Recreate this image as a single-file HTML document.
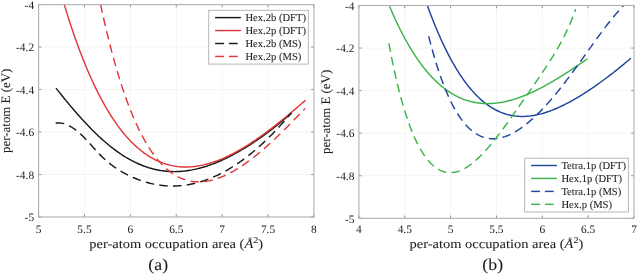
<!DOCTYPE html>
<html><head><meta charset="utf-8"><style>
html,body{margin:0;padding:0;background:#fff;width:637px;height:275px;overflow:hidden;position:relative}
svg text{text-rendering:geometricPrecision}
svg{filter:blur(0.3px)}
</style></head><body>
<svg width="637" height="275" viewBox="0 0 637 275" style="position:absolute;left:0;top:0">
<defs><clipPath id="ca"><rect x="38.6" y="4.6" width="275.29999999999995" height="212.35"/></clipPath><clipPath id="cb"><rect x="358.9" y="5.5" width="275.1" height="212.8"/></clipPath></defs>
<g font-family='"Liberation Serif", serif' fill="#1c1c1c" stroke="#1c1c1c" stroke-width="0.08">
<line x1="84.48" y1="4.6" x2="84.48" y2="216.95" stroke="#f1f1f1" stroke-width="0.8"/>
<line x1="130.37" y1="4.6" x2="130.37" y2="216.95" stroke="#f1f1f1" stroke-width="0.8"/>
<line x1="176.25" y1="4.6" x2="176.25" y2="216.95" stroke="#f1f1f1" stroke-width="0.8"/>
<line x1="222.13" y1="4.6" x2="222.13" y2="216.95" stroke="#f1f1f1" stroke-width="0.8"/>
<line x1="268.02" y1="4.6" x2="268.02" y2="216.95" stroke="#f1f1f1" stroke-width="0.8"/>
<line x1="38.6" y1="47.07" x2="313.9" y2="47.07" stroke="#f1f1f1" stroke-width="0.8"/>
<line x1="38.6" y1="89.54" x2="313.9" y2="89.54" stroke="#f1f1f1" stroke-width="0.8"/>
<line x1="38.6" y1="132.01" x2="313.9" y2="132.01" stroke="#f1f1f1" stroke-width="0.8"/>
<line x1="38.6" y1="174.48" x2="313.9" y2="174.48" stroke="#f1f1f1" stroke-width="0.8"/>
<g clip-path="url(#ca)" fill="none" stroke-width="1.45" stroke-linejoin="round">
<path d="M56.00,88.16 L57.18,89.65 L58.37,91.13 L59.55,92.60 L60.74,94.07 L61.92,95.54 L63.11,97.00 L64.29,98.45 L65.48,99.90 L66.66,101.34 L67.84,102.77 L69.03,104.19 L70.21,105.61 L71.40,107.01 L72.58,108.41 L73.77,109.80 L74.95,111.17 L76.14,112.54 L77.32,113.90 L78.50,115.24 L79.69,116.58 L80.87,117.90 L82.06,119.21 L83.24,120.51 L84.43,121.80 L85.61,123.07 L86.79,124.33 L87.98,125.58 L89.16,126.81 L90.35,128.03 L91.53,129.24 L92.72,130.43 L93.90,131.60 L95.09,132.77 L96.27,133.91 L97.45,135.04 L98.64,136.16 L99.82,137.26 L101.01,138.35 L102.19,139.41 L103.38,140.47 L104.56,141.50 L105.75,142.52 L106.93,143.53 L108.11,144.52 L109.30,145.49 L110.48,146.44 L111.67,147.38 L112.85,148.29 L114.04,149.20 L115.22,150.08 L116.41,150.95 L117.59,151.80 L118.77,152.63 L119.96,153.44 L121.14,154.24 L122.33,155.02 L123.51,155.78 L124.70,156.52 L125.88,157.25 L127.07,157.95 L128.25,158.64 L129.43,159.31 L130.62,159.97 L131.80,160.60 L132.99,161.22 L134.17,161.82 L135.36,162.40 L136.54,162.96 L137.73,163.50 L138.91,164.03 L140.09,164.54 L141.28,165.03 L142.46,165.50 L143.65,165.95 L144.83,166.39 L146.02,166.81 L147.20,167.20 L148.38,167.59 L149.57,167.95 L150.75,168.30 L151.94,168.63 L153.12,168.94 L154.31,169.23 L155.49,169.51 L156.68,169.77 L157.86,170.01 L159.04,170.23 L160.23,170.44 L161.41,170.63 L162.60,170.80 L163.78,170.96 L164.97,171.09 L166.15,171.22 L167.34,171.32 L168.52,171.41 L169.70,171.48 L170.89,171.54 L172.07,171.58 L173.26,171.60 L174.44,171.61 L175.63,171.60 L176.81,171.58 L178.00,171.54 L179.18,171.48 L180.36,171.41 L181.55,171.33 L182.73,171.23 L183.92,171.11 L185.10,170.98 L186.29,170.83 L187.47,170.67 L188.66,170.50 L189.84,170.31 L191.02,170.10 L192.21,169.89 L193.39,169.65 L194.58,169.41 L195.76,169.15 L196.95,168.88 L198.13,168.59 L199.32,168.29 L200.50,167.98 L201.68,167.65 L202.87,167.31 L204.05,166.96 L205.24,166.59 L206.42,166.22 L207.61,165.83 L208.79,165.42 L209.97,165.01 L211.16,164.58 L212.34,164.15 L213.53,163.70 L214.71,163.23 L215.90,162.76 L217.08,162.28 L218.27,161.78 L219.45,161.27 L220.63,160.76 L221.82,160.23 L223.00,159.69 L224.19,159.14 L225.37,158.58 L226.56,158.01 L227.74,157.43 L228.93,156.84 L230.11,156.24 L231.29,155.62 L232.48,155.00 L233.66,154.37 L234.85,153.73 L236.03,153.08 L237.22,152.42 L238.40,151.76 L239.59,151.08 L240.77,150.39 L241.95,149.69 L243.14,148.99 L244.32,148.28 L245.51,147.55 L246.69,146.82 L247.88,146.08 L249.06,145.33 L250.25,144.58 L251.43,143.81 L252.61,143.03 L253.80,142.25 L254.98,141.46 L256.17,140.66 L257.35,139.85 L258.54,139.04 L259.72,138.21 L260.91,137.38 L262.09,136.54 L263.27,135.69 L264.46,134.84 L265.64,133.97 L266.83,133.10 L268.01,132.22 L269.20,131.33 L270.38,130.43 L271.56,129.53 L272.75,128.62 L273.93,127.69 L275.12,126.77 L276.30,125.83 L277.49,124.88 L278.67,123.93 L279.86,122.96 L281.04,121.99 L282.22,121.01 L283.41,120.03 L284.59,119.03 L285.78,118.02 L286.96,117.01 L288.15,115.99 L289.33,114.95 L290.52,113.91 L291.70,112.86" stroke="#1a1a1a"/>
<path d="M64.20,4.38 L65.41,8.37 L66.63,12.30 L67.84,16.15 L69.05,19.95 L70.26,23.67 L71.48,27.33 L72.69,30.93 L73.90,34.47 L75.11,37.94 L76.33,41.36 L77.54,44.71 L78.75,48.00 L79.96,51.23 L81.18,54.40 L82.39,57.52 L83.60,60.58 L84.81,63.58 L86.03,66.52 L87.24,69.41 L88.45,72.25 L89.66,75.03 L90.88,77.76 L92.09,80.43 L93.30,83.05 L94.51,85.62 L95.73,88.14 L96.94,90.61 L98.15,93.03 L99.36,95.40 L100.58,97.72 L101.79,99.99 L103.00,102.21 L104.21,104.39 L105.43,106.52 L106.64,108.60 L107.85,110.64 L109.06,112.63 L110.28,114.58 L111.49,116.49 L112.70,118.35 L113.92,120.17 L115.13,121.94 L116.34,123.68 L117.55,125.37 L118.77,127.02 L119.98,128.63 L121.19,130.21 L122.40,131.74 L123.62,133.23 L124.83,134.68 L126.04,136.10 L127.25,137.48 L128.47,138.82 L129.68,140.12 L130.89,141.39 L132.10,142.62 L133.32,143.82 L134.53,144.98 L135.74,146.10 L136.95,147.20 L138.17,148.25 L139.38,149.28 L140.59,150.27 L141.80,151.23 L143.02,152.16 L144.23,153.05 L145.44,153.92 L146.65,154.75 L147.87,155.55 L149.08,156.32 L150.29,157.06 L151.50,157.77 L152.72,158.46 L153.93,159.11 L155.14,159.73 L156.35,160.33 L157.57,160.90 L158.78,161.44 L159.99,161.95 L161.21,162.44 L162.42,162.90 L163.63,163.34 L164.84,163.74 L166.06,164.13 L167.27,164.48 L168.48,164.82 L169.69,165.12 L170.91,165.41 L172.12,165.67 L173.33,165.90 L174.54,166.12 L175.76,166.30 L176.97,166.47 L178.18,166.61 L179.39,166.74 L180.61,166.83 L181.82,166.91 L183.03,166.97 L184.24,167.00 L185.46,167.02 L186.67,167.01 L187.88,166.98 L189.09,166.93 L190.31,166.87 L191.52,166.78 L192.73,166.67 L193.94,166.55 L195.16,166.40 L196.37,166.24 L197.58,166.06 L198.79,165.86 L200.01,165.64 L201.22,165.40 L202.43,165.15 L203.64,164.88 L204.86,164.59 L206.07,164.28 L207.28,163.96 L208.49,163.62 L209.71,163.27 L210.92,162.90 L212.13,162.51 L213.35,162.11 L214.56,161.70 L215.77,161.26 L216.98,160.82 L218.20,160.36 L219.41,159.88 L220.62,159.39 L221.83,158.88 L223.05,158.37 L224.26,157.83 L225.47,157.29 L226.68,156.73 L227.90,156.16 L229.11,155.57 L230.32,154.97 L231.53,154.36 L232.75,153.74 L233.96,153.11 L235.17,152.46 L236.38,151.80 L237.60,151.13 L238.81,150.45 L240.02,149.75 L241.23,149.05 L242.45,148.33 L243.66,147.61 L244.87,146.87 L246.08,146.12 L247.30,145.36 L248.51,144.60 L249.72,143.82 L250.93,143.03 L252.15,142.23 L253.36,141.43 L254.57,140.61 L255.78,139.79 L257.00,138.96 L258.21,138.11 L259.42,137.26 L260.64,136.40 L261.85,135.54 L263.06,134.66 L264.27,133.78 L265.49,132.89 L266.70,131.99 L267.91,131.08 L269.12,130.17 L270.34,129.25 L271.55,128.33 L272.76,127.39 L273.97,126.45 L275.19,125.51 L276.40,124.56 L277.61,123.60 L278.82,122.63 L280.04,121.67 L281.25,120.69 L282.46,119.71 L283.67,118.73 L284.89,117.74 L286.10,116.74 L287.31,115.74 L288.52,114.74 L289.74,113.73 L290.95,112.72 L292.16,111.70 L293.37,110.68 L294.59,109.66 L295.80,108.63 L297.01,107.60 L298.22,106.57 L299.44,105.54 L300.65,104.50 L301.86,103.46 L303.07,102.42 L304.29,101.37 L305.50,100.32" stroke="#e0393b"/>
<path d="M55.70,123.24 L56.88,123.06 L58.07,122.97 L59.25,122.95 L60.43,123.01 L61.61,123.15 L62.80,123.37 L63.98,123.65 L65.16,124.01 L66.35,124.43 L67.53,124.92 L68.71,125.48 L69.89,126.09 L71.08,126.76 L72.26,127.50 L73.44,128.28 L74.63,129.12 L75.81,130.01 L76.99,130.95 L78.18,131.93 L79.36,132.96 L80.54,134.03 L81.72,135.14 L82.91,136.28 L84.09,137.47 L85.27,138.68 L86.46,139.93 L87.64,141.20 L88.82,142.49 L90.00,143.80 L91.19,145.11 L92.37,146.43 L93.55,147.75 L94.74,149.07 L95.92,150.37 L97.10,151.66 L98.28,152.92 L99.47,154.16 L100.65,155.37 L101.83,156.54 L103.02,157.67 L104.20,158.78 L105.38,159.85 L106.57,160.89 L107.75,161.90 L108.93,162.88 L110.11,163.83 L111.30,164.75 L112.48,165.64 L113.66,166.51 L114.85,167.34 L116.03,168.16 L117.21,168.95 L118.39,169.71 L119.58,170.45 L120.76,171.17 L121.94,171.87 L123.13,172.54 L124.31,173.20 L125.49,173.83 L126.67,174.45 L127.86,175.05 L129.04,175.63 L130.22,176.19 L131.41,176.74 L132.59,177.27 L133.77,177.78 L134.96,178.28 L136.14,178.77 L137.32,179.24 L138.50,179.69 L139.69,180.12 L140.87,180.54 L142.05,180.95 L143.24,181.34 L144.42,181.71 L145.60,182.07 L146.78,182.41 L147.97,182.74 L149.15,183.05 L150.33,183.34 L151.52,183.62 L152.70,183.89 L153.88,184.14 L155.06,184.37 L156.25,184.59 L157.43,184.79 L158.61,184.98 L159.80,185.15 L160.98,185.30 L162.16,185.44 L163.35,185.57 L164.53,185.68 L165.71,185.77 L166.89,185.85 L168.08,185.92 L169.26,185.96 L170.44,186.00 L171.63,186.02 L172.81,186.02 L173.99,186.01 L175.17,185.98 L176.36,185.94 L177.54,185.88 L178.72,185.81 L179.91,185.72 L181.09,185.62 L182.27,185.50 L183.45,185.37 L184.64,185.22 L185.82,185.06 L187.00,184.88 L188.19,184.69 L189.37,184.48 L190.55,184.26 L191.74,184.02 L192.92,183.77 L194.10,183.50 L195.28,183.22 L196.47,182.92 L197.65,182.61 L198.83,182.28 L200.02,181.94 L201.20,181.59 L202.38,181.22 L203.56,180.83 L204.75,180.43 L205.93,180.02 L207.11,179.59 L208.30,179.15 L209.48,178.69 L210.66,178.22 L211.84,177.73 L213.03,177.23 L214.21,176.71 L215.39,176.18 L216.58,175.64 L217.76,175.08 L218.94,174.51 L220.13,173.92 L221.31,173.32 L222.49,172.70 L223.67,172.07 L224.86,171.42 L226.04,170.76 L227.22,170.09 L228.41,169.40 L229.59,168.70 L230.77,167.98 L231.95,167.25 L233.14,166.51 L234.32,165.75 L235.50,164.98 L236.69,164.19 L237.87,163.39 L239.05,162.58 L240.23,161.75 L241.42,160.90 L242.60,160.05 L243.78,159.18 L244.97,158.29 L246.15,157.39 L247.33,156.48 L248.52,155.55 L249.70,154.61 L250.88,153.66 L252.06,152.69 L253.25,151.71 L254.43,150.71 L255.61,149.71 L256.80,148.68 L257.98,147.65 L259.16,146.60 L260.34,145.53 L261.53,144.45 L262.71,143.36 L263.89,142.26 L265.08,141.14 L266.26,140.01 L267.44,138.86 L268.62,137.70 L269.81,136.53 L270.99,135.34 L272.17,134.14 L273.36,132.93 L274.54,131.70 L275.72,130.46 L276.91,129.21 L278.09,127.95 L279.27,126.67 L280.45,125.37 L281.64,124.07 L282.82,122.75 L284.00,121.41 L285.19,120.07 L286.37,118.71 L287.55,117.33 L288.73,115.95 L289.92,114.55 L291.10,113.14" stroke="#1a1a1a" stroke-dasharray="8.6 5.2"/>
<path d="M100.50,4.16 L101.53,8.94 L102.56,13.63 L103.58,18.23 L104.61,22.74 L105.64,27.16 L106.67,31.50 L107.70,35.75 L108.73,39.91 L109.75,43.99 L110.78,47.99 L111.81,51.91 L112.84,55.75 L113.87,59.50 L114.89,63.18 L115.92,66.79 L116.95,70.31 L117.98,73.77 L119.01,77.15 L120.03,80.45 L121.06,83.69 L122.09,86.85 L123.12,89.94 L124.15,92.97 L125.18,95.93 L126.20,98.82 L127.23,101.65 L128.26,104.41 L129.29,107.10 L130.32,109.74 L131.34,112.31 L132.37,114.82 L133.40,117.27 L134.43,119.66 L135.46,122.00 L136.48,124.27 L137.51,126.49 L138.54,128.65 L139.57,130.76 L140.60,132.82 L141.63,134.81 L142.65,136.76 L143.68,138.66 L144.71,140.50 L145.74,142.29 L146.77,144.04 L147.79,145.73 L148.82,147.38 L149.85,148.98 L150.88,150.53 L151.91,152.04 L152.94,153.50 L153.96,154.91 L154.99,156.28 L156.02,157.61 L157.05,158.90 L158.08,160.14 L159.10,161.35 L160.13,162.51 L161.16,163.63 L162.19,164.71 L163.22,165.75 L164.24,166.76 L165.27,167.73 L166.30,168.66 L167.33,169.55 L168.36,170.41 L169.39,171.23 L170.41,172.02 L171.44,172.77 L172.47,173.49 L173.50,174.17 L174.53,174.83 L175.55,175.45 L176.58,176.03 L177.61,176.59 L178.64,177.12 L179.67,177.61 L180.69,178.08 L181.72,178.52 L182.75,178.92 L183.78,179.30 L184.81,179.65 L185.84,179.98 L186.86,180.27 L187.89,180.54 L188.92,180.79 L189.95,181.00 L190.98,181.20 L192.00,181.36 L193.03,181.51 L194.06,181.62 L195.09,181.72 L196.12,181.79 L197.15,181.83 L198.17,181.86 L199.20,181.86 L200.23,181.84 L201.26,181.79 L202.29,181.73 L203.31,181.64 L204.34,181.54 L205.37,181.41 L206.40,181.26 L207.43,181.10 L208.45,180.91 L209.48,180.71 L210.51,180.48 L211.54,180.24 L212.57,179.98 L213.60,179.70 L214.62,179.40 L215.65,179.08 L216.68,178.75 L217.71,178.40 L218.74,178.04 L219.76,177.66 L220.79,177.26 L221.82,176.84 L222.85,176.41 L223.88,175.97 L224.91,175.50 L225.93,175.03 L226.96,174.54 L227.99,174.03 L229.02,173.51 L230.05,172.98 L231.07,172.43 L232.10,171.87 L233.13,171.30 L234.16,170.71 L235.19,170.11 L236.21,169.49 L237.24,168.87 L238.27,168.23 L239.30,167.58 L240.33,166.91 L241.36,166.24 L242.38,165.55 L243.41,164.86 L244.44,164.15 L245.47,163.43 L246.50,162.70 L247.52,161.95 L248.55,161.20 L249.58,160.44 L250.61,159.67 L251.64,158.88 L252.66,158.09 L253.69,157.29 L254.72,156.48 L255.75,155.65 L256.78,154.82 L257.81,153.98 L258.83,153.14 L259.86,152.28 L260.89,151.41 L261.92,150.54 L262.95,149.66 L263.97,148.77 L265.00,147.87 L266.03,146.96 L267.06,146.05 L268.09,145.13 L269.12,144.20 L270.14,143.27 L271.17,142.32 L272.20,141.37 L273.23,140.42 L274.26,139.46 L275.28,138.49 L276.31,137.51 L277.34,136.53 L278.37,135.55 L279.40,134.56 L280.42,133.56 L281.45,132.56 L282.48,131.55 L283.51,130.54 L284.54,129.52 L285.57,128.50 L286.59,127.47 L287.62,126.44 L288.65,125.40 L289.68,124.36 L290.71,123.32 L291.73,122.27 L292.76,121.22 L293.79,120.17 L294.82,119.11 L295.85,118.05 L296.87,116.99 L297.90,115.93 L298.93,114.86 L299.96,113.79 L300.99,112.72 L302.02,111.64 L303.04,110.57 L304.07,109.49 L305.10,108.42" stroke="#e0393b" stroke-dasharray="8.6 5.2"/>
</g>
<line x1="38.60" y1="216.95" x2="38.60" y2="214.15" stroke="#8a8a8a" stroke-width="0.9"/>
<line x1="38.60" y1="4.6" x2="38.60" y2="7.40" stroke="#8a8a8a" stroke-width="0.9"/>
<line x1="84.48" y1="216.95" x2="84.48" y2="214.15" stroke="#8a8a8a" stroke-width="0.9"/>
<line x1="84.48" y1="4.6" x2="84.48" y2="7.40" stroke="#8a8a8a" stroke-width="0.9"/>
<line x1="130.37" y1="216.95" x2="130.37" y2="214.15" stroke="#8a8a8a" stroke-width="0.9"/>
<line x1="130.37" y1="4.6" x2="130.37" y2="7.40" stroke="#8a8a8a" stroke-width="0.9"/>
<line x1="176.25" y1="216.95" x2="176.25" y2="214.15" stroke="#8a8a8a" stroke-width="0.9"/>
<line x1="176.25" y1="4.6" x2="176.25" y2="7.40" stroke="#8a8a8a" stroke-width="0.9"/>
<line x1="222.13" y1="216.95" x2="222.13" y2="214.15" stroke="#8a8a8a" stroke-width="0.9"/>
<line x1="222.13" y1="4.6" x2="222.13" y2="7.40" stroke="#8a8a8a" stroke-width="0.9"/>
<line x1="268.02" y1="216.95" x2="268.02" y2="214.15" stroke="#8a8a8a" stroke-width="0.9"/>
<line x1="268.02" y1="4.6" x2="268.02" y2="7.40" stroke="#8a8a8a" stroke-width="0.9"/>
<line x1="313.90" y1="216.95" x2="313.90" y2="214.15" stroke="#8a8a8a" stroke-width="0.9"/>
<line x1="313.90" y1="4.6" x2="313.90" y2="7.40" stroke="#8a8a8a" stroke-width="0.9"/>
<line x1="38.6" y1="4.60" x2="41.40" y2="4.60" stroke="#8a8a8a" stroke-width="0.9"/>
<line x1="313.9" y1="4.60" x2="311.10" y2="4.60" stroke="#8a8a8a" stroke-width="0.9"/>
<line x1="38.6" y1="47.07" x2="41.40" y2="47.07" stroke="#8a8a8a" stroke-width="0.9"/>
<line x1="313.9" y1="47.07" x2="311.10" y2="47.07" stroke="#8a8a8a" stroke-width="0.9"/>
<line x1="38.6" y1="89.54" x2="41.40" y2="89.54" stroke="#8a8a8a" stroke-width="0.9"/>
<line x1="313.9" y1="89.54" x2="311.10" y2="89.54" stroke="#8a8a8a" stroke-width="0.9"/>
<line x1="38.6" y1="132.01" x2="41.40" y2="132.01" stroke="#8a8a8a" stroke-width="0.9"/>
<line x1="313.9" y1="132.01" x2="311.10" y2="132.01" stroke="#8a8a8a" stroke-width="0.9"/>
<line x1="38.6" y1="174.48" x2="41.40" y2="174.48" stroke="#8a8a8a" stroke-width="0.9"/>
<line x1="313.9" y1="174.48" x2="311.10" y2="174.48" stroke="#8a8a8a" stroke-width="0.9"/>
<line x1="38.6" y1="216.95" x2="41.40" y2="216.95" stroke="#8a8a8a" stroke-width="0.9"/>
<line x1="313.9" y1="216.95" x2="311.10" y2="216.95" stroke="#8a8a8a" stroke-width="0.9"/>
<rect x="38.6" y="4.6" width="275.30" height="212.35" fill="none" stroke="#b0b0b0" stroke-width="1.1"/>
<text x="38.60" y="233.3" text-anchor="middle" font-size="11.4" stroke-width="0">5</text>
<text x="84.48" y="233.3" text-anchor="middle" font-size="11.4" stroke-width="0">5.5</text>
<text x="130.37" y="233.3" text-anchor="middle" font-size="11.4" stroke-width="0">6</text>
<text x="176.25" y="233.3" text-anchor="middle" font-size="11.4" stroke-width="0">6.5</text>
<text x="222.13" y="233.3" text-anchor="middle" font-size="11.4" stroke-width="0">7</text>
<text x="268.02" y="233.3" text-anchor="middle" font-size="11.4" stroke-width="0">7.5</text>
<text x="313.90" y="233.3" text-anchor="middle" font-size="11.4" stroke-width="0">8</text>
<text x="34.10" y="8.80" text-anchor="end" font-size="11.4" stroke-width="0">-4</text>
<text x="34.10" y="51.27" text-anchor="end" font-size="11.4" stroke-width="0">-4.2</text>
<text x="34.10" y="93.74" text-anchor="end" font-size="11.4" stroke-width="0">-4.4</text>
<text x="34.10" y="136.21" text-anchor="end" font-size="11.4" stroke-width="0">-4.6</text>
<text x="34.10" y="178.68" text-anchor="end" font-size="11.4" stroke-width="0">-4.8</text>
<text x="34.10" y="221.15" text-anchor="end" font-size="11.4" stroke-width="0">-5</text>
<rect x="208.7" y="10.3" width="99.60" height="53.80" fill="#fff" stroke="#b0b0b0" stroke-width="0.9"/>
<line x1="215.10" y1="17.60" x2="240.90" y2="17.60" stroke="#1a1a1a" stroke-width="1.45"/>
<text x="245.40" y="21.20" font-size="10.6">Hex.2b (DFT)</text>
<line x1="215.10" y1="30.55" x2="240.90" y2="30.55" stroke="#e0393b" stroke-width="1.45"/>
<text x="245.40" y="34.15" font-size="10.6">Hex.2p (DFT)</text>
<line x1="215.10" y1="43.50" x2="224.10" y2="43.50" stroke="#1a1a1a" stroke-width="1.45"/>
<line x1="228.90" y1="43.50" x2="237.70" y2="43.50" stroke="#1a1a1a" stroke-width="1.45"/>
<text x="245.40" y="47.10" font-size="10.6">Hex.2b (MS)</text>
<line x1="215.10" y1="56.45" x2="224.10" y2="56.45" stroke="#e0393b" stroke-width="1.45"/>
<line x1="228.90" y1="56.45" x2="237.70" y2="56.45" stroke="#e0393b" stroke-width="1.45"/>
<text x="245.40" y="60.05" font-size="10.6">Hex.2p (MS)</text>
<line x1="404.75" y1="5.5" x2="404.75" y2="218.3" stroke="#f1f1f1" stroke-width="0.8"/>
<line x1="450.60" y1="5.5" x2="450.60" y2="218.3" stroke="#f1f1f1" stroke-width="0.8"/>
<line x1="496.45" y1="5.5" x2="496.45" y2="218.3" stroke="#f1f1f1" stroke-width="0.8"/>
<line x1="542.30" y1="5.5" x2="542.30" y2="218.3" stroke="#f1f1f1" stroke-width="0.8"/>
<line x1="588.15" y1="5.5" x2="588.15" y2="218.3" stroke="#f1f1f1" stroke-width="0.8"/>
<line x1="358.9" y1="48.06" x2="634.0" y2="48.06" stroke="#f1f1f1" stroke-width="0.8"/>
<line x1="358.9" y1="90.62" x2="634.0" y2="90.62" stroke="#f1f1f1" stroke-width="0.8"/>
<line x1="358.9" y1="133.18" x2="634.0" y2="133.18" stroke="#f1f1f1" stroke-width="0.8"/>
<line x1="358.9" y1="175.74" x2="634.0" y2="175.74" stroke="#f1f1f1" stroke-width="0.8"/>
<g clip-path="url(#cb)" fill="none" stroke-width="1.45" stroke-linejoin="round">
<path d="M427.30,5.36 L428.32,8.17 L429.35,10.93 L430.37,13.65 L431.39,16.32 L432.42,18.95 L433.44,21.54 L434.46,24.08 L435.48,26.58 L436.51,29.04 L437.53,31.45 L438.55,33.83 L439.58,36.16 L440.60,38.45 L441.62,40.71 L442.65,42.92 L443.67,45.09 L444.69,47.22 L445.72,49.31 L446.74,51.36 L447.76,53.38 L448.79,55.35 L449.81,57.29 L450.83,59.19 L451.85,61.05 L452.88,62.87 L453.90,64.66 L454.92,66.41 L455.95,68.12 L456.97,69.80 L457.99,71.44 L459.02,73.05 L460.04,74.62 L461.06,76.16 L462.09,77.66 L463.11,79.13 L464.13,80.56 L465.16,81.97 L466.18,83.33 L467.20,84.67 L468.22,85.97 L469.25,87.24 L470.27,88.48 L471.29,89.69 L472.32,90.86 L473.34,92.01 L474.36,93.12 L475.39,94.21 L476.41,95.26 L477.43,96.29 L478.46,97.28 L479.48,98.25 L480.50,99.18 L481.53,100.09 L482.55,100.97 L483.57,101.83 L484.59,102.65 L485.62,103.45 L486.64,104.22 L487.66,104.96 L488.69,105.68 L489.71,106.37 L490.73,107.04 L491.76,107.68 L492.78,108.29 L493.80,108.88 L494.83,109.45 L495.85,109.99 L496.87,110.51 L497.89,111.00 L498.92,111.47 L499.94,111.91 L500.96,112.34 L501.99,112.74 L503.01,113.12 L504.03,113.48 L505.06,113.81 L506.08,114.12 L507.10,114.42 L508.13,114.69 L509.15,114.94 L510.17,115.17 L511.20,115.38 L512.22,115.57 L513.24,115.74 L514.26,115.89 L515.29,116.03 L516.31,116.14 L517.33,116.23 L518.36,116.31 L519.38,116.37 L520.40,116.41 L521.43,116.44 L522.45,116.44 L523.47,116.43 L524.50,116.41 L525.52,116.36 L526.54,116.30 L527.57,116.23 L528.59,116.13 L529.61,116.03 L530.63,115.90 L531.66,115.77 L532.68,115.62 L533.70,115.45 L534.73,115.27 L535.75,115.07 L536.77,114.86 L537.80,114.64 L538.82,114.40 L539.84,114.15 L540.87,113.89 L541.89,113.62 L542.91,113.33 L543.94,113.03 L544.96,112.72 L545.98,112.39 L547.00,112.05 L548.03,111.71 L549.05,111.35 L550.07,110.98 L551.10,110.60 L552.12,110.20 L553.14,109.80 L554.17,109.39 L555.19,108.96 L556.21,108.53 L557.24,108.09 L558.26,107.63 L559.28,107.17 L560.31,106.70 L561.33,106.22 L562.35,105.73 L563.37,105.23 L564.40,104.72 L565.42,104.21 L566.44,103.68 L567.47,103.15 L568.49,102.61 L569.51,102.06 L570.54,101.50 L571.56,100.94 L572.58,100.37 L573.61,99.79 L574.63,99.20 L575.65,98.61 L576.67,98.01 L577.70,97.40 L578.72,96.78 L579.74,96.16 L580.77,95.54 L581.79,94.90 L582.81,94.26 L583.84,93.62 L584.86,92.96 L585.88,92.30 L586.91,91.64 L587.93,90.97 L588.95,90.29 L589.98,89.61 L591.00,88.92 L592.02,88.23 L593.04,87.53 L594.07,86.83 L595.09,86.12 L596.11,85.40 L597.14,84.68 L598.16,83.96 L599.18,83.23 L600.21,82.49 L601.23,81.75 L602.25,81.01 L603.28,80.26 L604.30,79.50 L605.32,78.74 L606.35,77.98 L607.37,77.21 L608.39,76.44 L609.41,75.66 L610.44,74.87 L611.46,74.08 L612.48,73.29 L613.51,72.49 L614.53,71.69 L615.55,70.88 L616.58,70.07 L617.60,69.25 L618.62,68.43 L619.65,67.60 L620.67,66.77 L621.69,65.93 L622.72,65.09 L623.74,64.24 L624.76,63.39 L625.78,62.54 L626.81,61.67 L627.83,60.81 L628.85,59.93 L629.88,59.05 L630.90,58.17" stroke="#21449c"/>
<path d="M389.50,6.17 L390.49,8.51 L391.49,10.82 L392.48,13.09 L393.48,15.33 L394.47,17.53 L395.46,19.69 L396.46,21.82 L397.45,23.92 L398.45,25.97 L399.44,28.00 L400.43,29.99 L401.43,31.95 L402.42,33.87 L403.42,35.76 L404.41,37.62 L405.40,39.44 L406.40,41.23 L407.39,43.00 L408.39,44.72 L409.38,46.42 L410.37,48.09 L411.37,49.73 L412.36,51.33 L413.36,52.91 L414.35,54.45 L415.34,55.97 L416.34,57.46 L417.33,58.91 L418.33,60.34 L419.32,61.74 L420.31,63.12 L421.31,64.46 L422.30,65.78 L423.29,67.07 L424.29,68.33 L425.28,69.57 L426.28,70.78 L427.27,71.96 L428.26,73.12 L429.26,74.25 L430.25,75.35 L431.25,76.43 L432.24,77.49 L433.23,78.52 L434.23,79.53 L435.22,80.51 L436.22,81.47 L437.21,82.40 L438.20,83.31 L439.20,84.20 L440.19,85.06 L441.19,85.90 L442.18,86.72 L443.17,87.52 L444.17,88.29 L445.16,89.04 L446.16,89.77 L447.15,90.48 L448.14,91.17 L449.14,91.84 L450.13,92.48 L451.13,93.11 L452.12,93.71 L453.11,94.30 L454.11,94.86 L455.10,95.41 L456.10,95.93 L457.09,96.44 L458.08,96.92 L459.08,97.39 L460.07,97.84 L461.07,98.27 L462.06,98.69 L463.05,99.08 L464.05,99.46 L465.04,99.81 L466.04,100.16 L467.03,100.48 L468.02,100.79 L469.02,101.08 L470.01,101.35 L471.01,101.61 L472.00,101.85 L472.99,102.07 L473.99,102.28 L474.98,102.47 L475.98,102.65 L476.97,102.81 L477.96,102.95 L478.96,103.08 L479.95,103.20 L480.95,103.30 L481.94,103.38 L482.93,103.45 L483.93,103.51 L484.92,103.55 L485.92,103.58 L486.91,103.60 L487.90,103.60 L488.90,103.59 L489.89,103.56 L490.88,103.53 L491.88,103.47 L492.87,103.41 L493.87,103.33 L494.86,103.24 L495.85,103.14 L496.85,103.03 L497.84,102.90 L498.84,102.77 L499.83,102.62 L500.82,102.46 L501.82,102.28 L502.81,102.10 L503.81,101.90 L504.80,101.70 L505.79,101.48 L506.79,101.25 L507.78,101.02 L508.78,100.77 L509.77,100.51 L510.76,100.24 L511.76,99.96 L512.75,99.67 L513.75,99.37 L514.74,99.07 L515.73,98.75 L516.73,98.42 L517.72,98.09 L518.72,97.74 L519.71,97.39 L520.70,97.02 L521.70,96.65 L522.69,96.27 L523.69,95.88 L524.68,95.49 L525.67,95.08 L526.67,94.67 L527.66,94.25 L528.66,93.82 L529.65,93.38 L530.64,92.94 L531.64,92.49 L532.63,92.03 L533.63,91.56 L534.62,91.09 L535.61,90.61 L536.61,90.12 L537.60,89.63 L538.60,89.13 L539.59,88.63 L540.58,88.11 L541.58,87.59 L542.57,87.07 L543.57,86.54 L544.56,86.00 L545.55,85.46 L546.55,84.91 L547.54,84.36 L548.54,83.80 L549.53,83.23 L550.52,82.66 L551.52,82.09 L552.51,81.51 L553.51,80.92 L554.50,80.33 L555.49,79.74 L556.49,79.14 L557.48,78.54 L558.47,77.93 L559.47,77.32 L560.46,76.70 L561.46,76.08 L562.45,75.46 L563.44,74.83 L564.44,74.20 L565.43,73.56 L566.43,72.93 L567.42,72.28 L568.41,71.64 L569.41,70.99 L570.40,70.34 L571.40,69.69 L572.39,69.03 L573.38,68.37 L574.38,67.71 L575.37,67.04 L576.37,66.37 L577.36,65.70 L578.35,65.03 L579.35,64.36 L580.34,63.68 L581.34,63.00 L582.33,62.32 L583.32,61.64 L584.32,60.96 L585.31,60.27 L586.31,59.59 L587.30,58.90" stroke="#3cb44b"/>
<path d="M428.70,36.21 L429.68,40.07 L430.66,43.82 L431.64,47.48 L432.61,51.03 L433.59,54.50 L434.57,57.86 L435.55,61.14 L436.53,64.32 L437.51,67.42 L438.48,70.43 L439.46,73.35 L440.44,76.19 L441.42,78.94 L442.40,81.62 L443.38,84.21 L444.35,86.73 L445.33,89.17 L446.31,91.53 L447.29,93.82 L448.27,96.04 L449.25,98.18 L450.22,100.26 L451.20,102.27 L452.18,104.21 L453.16,106.08 L454.14,107.89 L455.12,109.64 L456.09,111.32 L457.07,112.94 L458.05,114.50 L459.03,116.00 L460.01,117.45 L460.99,118.83 L461.97,120.16 L462.94,121.44 L463.92,122.66 L464.90,123.83 L465.88,124.95 L466.86,126.02 L467.84,127.03 L468.81,128.00 L469.79,128.92 L470.77,129.80 L471.75,130.62 L472.73,131.41 L473.71,132.14 L474.68,132.84 L475.66,133.49 L476.64,134.10 L477.62,134.67 L478.60,135.19 L479.58,135.68 L480.55,136.13 L481.53,136.54 L482.51,136.91 L483.49,137.25 L484.47,137.55 L485.45,137.82 L486.43,138.05 L487.40,138.24 L488.38,138.41 L489.36,138.53 L490.34,138.63 L491.32,138.70 L492.30,138.73 L493.27,138.74 L494.25,138.71 L495.23,138.65 L496.21,138.57 L497.19,138.45 L498.17,138.31 L499.14,138.14 L500.12,137.95 L501.10,137.73 L502.08,137.48 L503.06,137.20 L504.04,136.90 L505.01,136.58 L505.99,136.23 L506.97,135.86 L507.95,135.46 L508.93,135.05 L509.91,134.60 L510.88,134.14 L511.86,133.65 L512.84,133.15 L513.82,132.62 L514.80,132.07 L515.78,131.50 L516.76,130.91 L517.73,130.29 L518.71,129.66 L519.69,129.01 L520.67,128.35 L521.65,127.66 L522.63,126.95 L523.60,126.23 L524.58,125.49 L525.56,124.73 L526.54,123.95 L527.52,123.16 L528.50,122.35 L529.47,121.52 L530.45,120.67 L531.43,119.81 L532.41,118.94 L533.39,118.05 L534.37,117.14 L535.34,116.22 L536.32,115.29 L537.30,114.33 L538.28,113.37 L539.26,112.39 L540.24,111.40 L541.22,110.39 L542.19,109.37 L543.17,108.34 L544.15,107.29 L545.13,106.23 L546.11,105.16 L547.09,104.08 L548.06,102.98 L549.04,101.87 L550.02,100.75 L551.00,99.62 L551.98,98.48 L552.96,97.33 L553.93,96.16 L554.91,94.99 L555.89,93.80 L556.87,92.61 L557.85,91.41 L558.83,90.19 L559.80,88.97 L560.78,87.74 L561.76,86.49 L562.74,85.24 L563.72,83.99 L564.70,82.72 L565.67,81.45 L566.65,80.16 L567.63,78.88 L568.61,77.58 L569.59,76.28 L570.57,74.97 L571.55,73.65 L572.52,72.33 L573.50,71.01 L574.48,69.67 L575.46,68.34 L576.44,67.00 L577.42,65.65 L578.39,64.30 L579.37,62.95 L580.35,61.59 L581.33,60.24 L582.31,58.87 L583.29,57.51 L584.26,56.15 L585.24,54.78 L586.22,53.41 L587.20,52.05 L588.18,50.68 L589.16,49.31 L590.13,47.94 L591.11,46.58 L592.09,45.21 L593.07,43.85 L594.05,42.49 L595.03,41.14 L596.01,39.79 L596.98,38.44 L597.96,37.10 L598.94,35.76 L599.92,34.43 L600.90,33.10 L601.88,31.78 L602.85,30.47 L603.83,29.17 L604.81,27.87 L605.79,26.59 L606.77,25.31 L607.75,24.05 L608.72,22.80 L609.70,21.56 L610.68,20.33 L611.66,19.11 L612.64,17.91 L613.62,16.73 L614.59,15.56 L615.57,14.40 L616.55,13.27 L617.53,12.15 L618.51,11.05 L619.49,9.97 L620.46,8.91 L621.44,7.87 L622.42,6.86 L623.40,5.86" stroke="#21449c" stroke-dasharray="8.6 5.2"/>
<path d="M388.90,43.35 L389.84,48.41 L390.78,53.32 L391.72,58.09 L392.65,62.71 L393.59,67.20 L394.53,71.54 L395.47,75.76 L396.41,79.85 L397.35,83.81 L398.29,87.65 L399.23,91.38 L400.16,94.98 L401.10,98.47 L402.04,101.85 L402.98,105.13 L403.92,108.30 L404.86,111.36 L405.80,114.33 L406.74,117.19 L407.67,119.96 L408.61,122.64 L409.55,125.23 L410.49,127.72 L411.43,130.13 L412.37,132.46 L413.31,134.70 L414.24,136.86 L415.18,138.94 L416.12,140.95 L417.06,142.87 L418.00,144.73 L418.94,146.51 L419.88,148.22 L420.82,149.86 L421.75,151.43 L422.69,152.93 L423.63,154.37 L424.57,155.75 L425.51,157.06 L426.45,158.31 L427.39,159.50 L428.33,160.63 L429.26,161.70 L430.20,162.72 L431.14,163.68 L432.08,164.58 L433.02,165.44 L433.96,166.23 L434.90,166.98 L435.83,167.68 L436.77,168.32 L437.71,168.92 L438.65,169.47 L439.59,169.97 L440.53,170.43 L441.47,170.84 L442.41,171.20 L443.34,171.52 L444.28,171.80 L445.22,172.04 L446.16,172.23 L447.10,172.38 L448.04,172.49 L448.98,172.56 L449.92,172.60 L450.85,172.59 L451.79,172.54 L452.73,172.46 L453.67,172.34 L454.61,172.19 L455.55,172.00 L456.49,171.77 L457.42,171.51 L458.36,171.22 L459.30,170.90 L460.24,170.54 L461.18,170.15 L462.12,169.72 L463.06,169.27 L464.00,168.79 L464.93,168.28 L465.87,167.73 L466.81,167.16 L467.75,166.56 L468.69,165.94 L469.63,165.28 L470.57,164.60 L471.51,163.90 L472.44,163.17 L473.38,162.41 L474.32,161.63 L475.26,160.83 L476.20,160.00 L477.14,159.15 L478.08,158.28 L479.01,157.39 L479.95,156.47 L480.89,155.54 L481.83,154.58 L482.77,153.61 L483.71,152.61 L484.65,151.60 L485.59,150.57 L486.52,149.52 L487.46,148.46 L488.40,147.38 L489.34,146.28 L490.28,145.17 L491.22,144.05 L492.16,142.91 L493.09,141.75 L494.03,140.59 L494.97,139.41 L495.91,138.22 L496.85,137.01 L497.79,135.80 L498.73,134.57 L499.67,133.34 L500.60,132.10 L501.54,130.84 L502.48,129.58 L503.42,128.31 L504.36,127.04 L505.30,125.75 L506.24,124.46 L507.18,123.17 L508.11,121.86 L509.05,120.55 L509.99,119.24 L510.93,117.92 L511.87,116.60 L512.81,115.28 L513.75,113.95 L514.68,112.61 L515.62,111.28 L516.56,109.94 L517.50,108.60 L518.44,107.26 L519.38,105.91 L520.32,104.57 L521.26,103.22 L522.19,101.87 L523.13,100.52 L524.07,99.17 L525.01,97.82 L525.95,96.47 L526.89,95.12 L527.83,93.76 L528.77,92.41 L529.70,91.05 L530.64,89.70 L531.58,88.34 L532.52,86.98 L533.46,85.62 L534.40,84.26 L535.34,82.90 L536.27,81.53 L537.21,80.17 L538.15,78.79 L539.09,77.42 L540.03,76.04 L540.97,74.66 L541.91,73.27 L542.85,71.87 L543.78,70.47 L544.72,69.07 L545.66,67.65 L546.60,66.22 L547.54,64.79 L548.48,63.34 L549.42,61.88 L550.36,60.41 L551.29,58.92 L552.23,57.42 L553.17,55.90 L554.11,54.36 L555.05,52.80 L555.99,51.22 L556.93,49.62 L557.86,47.99 L558.80,46.34 L559.74,44.65 L560.68,42.94 L561.62,41.19 L562.56,39.40 L563.50,37.58 L564.44,35.72 L565.37,33.82 L566.31,31.87 L567.25,29.88 L568.19,27.84 L569.13,25.74 L570.07,23.58 L571.01,21.37 L571.95,19.10 L572.88,16.75 L573.82,14.34 L574.76,11.86 L575.70,9.30" stroke="#3cb44b" stroke-dasharray="8.6 5.2"/>
</g>
<line x1="358.90" y1="218.3" x2="358.90" y2="215.50" stroke="#8a8a8a" stroke-width="0.9"/>
<line x1="358.90" y1="5.5" x2="358.90" y2="8.30" stroke="#8a8a8a" stroke-width="0.9"/>
<line x1="404.75" y1="218.3" x2="404.75" y2="215.50" stroke="#8a8a8a" stroke-width="0.9"/>
<line x1="404.75" y1="5.5" x2="404.75" y2="8.30" stroke="#8a8a8a" stroke-width="0.9"/>
<line x1="450.60" y1="218.3" x2="450.60" y2="215.50" stroke="#8a8a8a" stroke-width="0.9"/>
<line x1="450.60" y1="5.5" x2="450.60" y2="8.30" stroke="#8a8a8a" stroke-width="0.9"/>
<line x1="496.45" y1="218.3" x2="496.45" y2="215.50" stroke="#8a8a8a" stroke-width="0.9"/>
<line x1="496.45" y1="5.5" x2="496.45" y2="8.30" stroke="#8a8a8a" stroke-width="0.9"/>
<line x1="542.30" y1="218.3" x2="542.30" y2="215.50" stroke="#8a8a8a" stroke-width="0.9"/>
<line x1="542.30" y1="5.5" x2="542.30" y2="8.30" stroke="#8a8a8a" stroke-width="0.9"/>
<line x1="588.15" y1="218.3" x2="588.15" y2="215.50" stroke="#8a8a8a" stroke-width="0.9"/>
<line x1="588.15" y1="5.5" x2="588.15" y2="8.30" stroke="#8a8a8a" stroke-width="0.9"/>
<line x1="634.00" y1="218.3" x2="634.00" y2="215.50" stroke="#8a8a8a" stroke-width="0.9"/>
<line x1="634.00" y1="5.5" x2="634.00" y2="8.30" stroke="#8a8a8a" stroke-width="0.9"/>
<line x1="358.9" y1="5.50" x2="361.70" y2="5.50" stroke="#8a8a8a" stroke-width="0.9"/>
<line x1="634.0" y1="5.50" x2="631.20" y2="5.50" stroke="#8a8a8a" stroke-width="0.9"/>
<line x1="358.9" y1="48.06" x2="361.70" y2="48.06" stroke="#8a8a8a" stroke-width="0.9"/>
<line x1="634.0" y1="48.06" x2="631.20" y2="48.06" stroke="#8a8a8a" stroke-width="0.9"/>
<line x1="358.9" y1="90.62" x2="361.70" y2="90.62" stroke="#8a8a8a" stroke-width="0.9"/>
<line x1="634.0" y1="90.62" x2="631.20" y2="90.62" stroke="#8a8a8a" stroke-width="0.9"/>
<line x1="358.9" y1="133.18" x2="361.70" y2="133.18" stroke="#8a8a8a" stroke-width="0.9"/>
<line x1="634.0" y1="133.18" x2="631.20" y2="133.18" stroke="#8a8a8a" stroke-width="0.9"/>
<line x1="358.9" y1="175.74" x2="361.70" y2="175.74" stroke="#8a8a8a" stroke-width="0.9"/>
<line x1="634.0" y1="175.74" x2="631.20" y2="175.74" stroke="#8a8a8a" stroke-width="0.9"/>
<line x1="358.9" y1="218.30" x2="361.70" y2="218.30" stroke="#8a8a8a" stroke-width="0.9"/>
<line x1="634.0" y1="218.30" x2="631.20" y2="218.30" stroke="#8a8a8a" stroke-width="0.9"/>
<rect x="358.9" y="5.5" width="275.10" height="212.80" fill="none" stroke="#b0b0b0" stroke-width="1.1"/>
<text x="358.90" y="233.3" text-anchor="middle" font-size="11.4" stroke-width="0">4</text>
<text x="404.75" y="233.3" text-anchor="middle" font-size="11.4" stroke-width="0">4.5</text>
<text x="450.60" y="233.3" text-anchor="middle" font-size="11.4" stroke-width="0">5</text>
<text x="496.45" y="233.3" text-anchor="middle" font-size="11.4" stroke-width="0">5.5</text>
<text x="542.30" y="233.3" text-anchor="middle" font-size="11.4" stroke-width="0">6</text>
<text x="588.15" y="233.3" text-anchor="middle" font-size="11.4" stroke-width="0">6.5</text>
<text x="634.00" y="233.3" text-anchor="middle" font-size="11.4" stroke-width="0">7</text>
<text x="354.40" y="9.70" text-anchor="end" font-size="11.4" stroke-width="0">-4</text>
<text x="354.40" y="52.26" text-anchor="end" font-size="11.4" stroke-width="0">-4.2</text>
<text x="354.40" y="94.82" text-anchor="end" font-size="11.4" stroke-width="0">-4.4</text>
<text x="354.40" y="137.38" text-anchor="end" font-size="11.4" stroke-width="0">-4.6</text>
<text x="354.40" y="179.94" text-anchor="end" font-size="11.4" stroke-width="0">-4.8</text>
<text x="354.40" y="222.50" text-anchor="end" font-size="11.4" stroke-width="0">-5</text>
<rect x="524.7" y="158.2" width="103.70" height="53.80" fill="#fff" stroke="#b0b0b0" stroke-width="0.9"/>
<line x1="531.10" y1="165.50" x2="556.90" y2="165.50" stroke="#21449c" stroke-width="1.45"/>
<text x="561.40" y="169.10" font-size="10.6">Tetra.1p (DFT)</text>
<line x1="531.10" y1="178.45" x2="556.90" y2="178.45" stroke="#3cb44b" stroke-width="1.45"/>
<text x="561.40" y="182.05" font-size="10.6">Hex.1p (DFT)</text>
<line x1="531.10" y1="191.40" x2="540.10" y2="191.40" stroke="#21449c" stroke-width="1.45"/>
<line x1="544.90" y1="191.40" x2="553.70" y2="191.40" stroke="#21449c" stroke-width="1.45"/>
<text x="561.40" y="195.00" font-size="10.6">Tetra.1p (MS)</text>
<line x1="531.10" y1="204.35" x2="540.10" y2="204.35" stroke="#3cb44b" stroke-width="1.45"/>
<line x1="544.90" y1="204.35" x2="553.70" y2="204.35" stroke="#3cb44b" stroke-width="1.45"/>
<text x="561.40" y="207.95" font-size="10.6">Hex.p (MS)</text>
<text transform="translate(10.10,110.77) rotate(-90)" text-anchor="middle" font-size="12.9">per-atom E (eV)</text>
<text transform="translate(176.25,248.0) scale(1.13,1)" text-anchor="middle" font-size="12.8" stroke-width="0.05">per-atom occupation area (<tspan font-style="italic">Å</tspan><tspan font-size="8.96" dy="-5">2</tspan><tspan dy="5">)</tspan></text>
<text transform="translate(330.40,111.90) rotate(-90)" text-anchor="middle" font-size="12.9">per-atom E (eV)</text>
<text transform="translate(496.45,248.0) scale(1.13,1)" text-anchor="middle" font-size="12.8" stroke-width="0.05">per-atom occupation area (<tspan font-style="italic">Å</tspan><tspan font-size="8.96" dy="-5">2</tspan><tspan dy="5">)</tspan></text>
<text transform="translate(158.2,270.3) scale(1.07,1)" text-anchor="middle" font-size="16.6">(a)</text>
<text transform="translate(492.7,270.3) scale(1.07,1)" text-anchor="middle" font-size="16.6">(b)</text>
</g></svg>
</body></html>
